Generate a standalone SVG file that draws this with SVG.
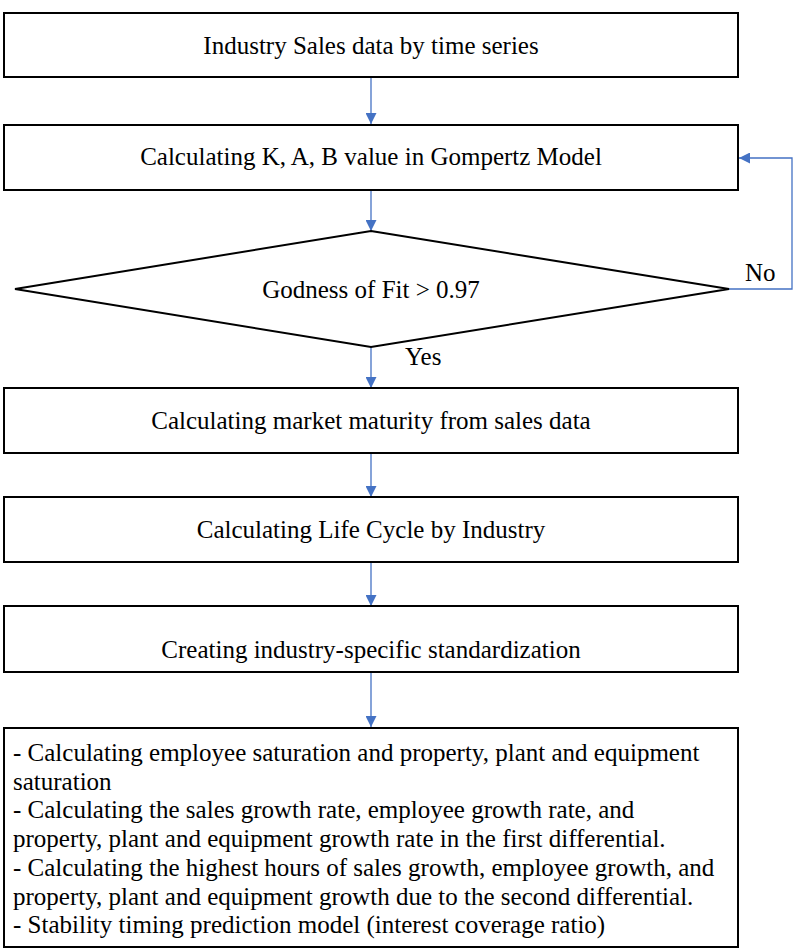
<svg xmlns="http://www.w3.org/2000/svg" width="804" height="952" viewBox="0 0 804 952">
<style>
.box{fill:#fff;stroke:#000;stroke-width:2}
.t{font-family:"Liberation Serif","Times New Roman",serif;font-size:25px;fill:#000}
.c{text-anchor:middle}
.con{fill:none;stroke:#4472C4;stroke-width:1.3}
</style>
<defs>
<marker id="ah" viewBox="0 0 10 10" refX="10" refY="5" markerWidth="11" markerHeight="11" markerUnits="userSpaceOnUse" orient="auto">
<path d="M0,0 L10,5 L0,10 z" fill="#4472C4"/>
</marker>
</defs>
<rect width="804" height="952" fill="#fff"/>
<g id="connectors">
<line class="con" x1="371" y1="77" x2="371" y2="124" marker-end="url(#ah)"/>
<line class="con" x1="371" y1="190" x2="371" y2="231" marker-end="url(#ah)"/>
<line class="con" x1="371" y1="347" x2="371" y2="388" marker-end="url(#ah)"/>
<line class="con" x1="371" y1="453" x2="371" y2="497" marker-end="url(#ah)"/>
<line class="con" x1="371" y1="562" x2="371" y2="606" marker-end="url(#ah)"/>
<line class="con" x1="371" y1="672" x2="371" y2="727" marker-end="url(#ah)"/>
<polyline class="con" points="729,289 792,289 792,158 739,158" marker-end="url(#ah)"/>
<text class="t" x="745" y="281">No</text>
<text class="t" x="405" y="365">Yes</text>
</g>
<g id="n1">
<rect class="box" x="4" y="13" width="734" height="64"/>
<text class="t c" x="371" y="54">Industry Sales data by time series</text>
</g>
<g id="n2">
<rect class="box" x="4" y="125" width="734" height="65"/>
<text class="t c" x="371" y="165">Calculating K, A, B value in Gompertz Model</text>
</g>
<g id="n3">
<polygon class="box" points="371,231 729,289 371,347 15,289"/>
<text class="t c" x="371" y="298">Godness of Fit &gt; 0.97</text>
</g>
<g id="n4">
<rect class="box" x="4" y="388" width="734" height="65"/>
<text class="t c" x="371" y="429">Calculating market maturity from sales data</text>
</g>
<g id="n5">
<rect class="box" x="4" y="497" width="734" height="65"/>
<text class="t c" x="371" y="538">Calculating Life Cycle by Industry</text>
</g>
<g id="n6">
<rect class="box" x="4" y="606" width="734" height="66"/>
<text class="t c" x="371" y="658">Creating industry-specific standardization</text>
</g>
<g id="n7">
<rect class="box" x="4" y="728" width="734" height="219"/>
<text class="t" x="13" y="761">- Calculating employee saturation and property, plant and equipment</text>
<text class="t" x="13" y="790">saturation</text>
<text class="t" x="13" y="818">- Calculating the sales growth rate, employee growth rate, and</text>
<text class="t" x="13" y="847">property, plant and equipment growth rate in the first differential.</text>
<text class="t" x="13" y="876">- Calculating the highest hours of sales growth, employee growth, and</text>
<text class="t" x="13" y="905">property, plant and equipment growth due to the second differential.</text>
<text class="t" x="13" y="933">- Stability timing prediction model (interest coverage ratio)</text>
</g>
</svg>
